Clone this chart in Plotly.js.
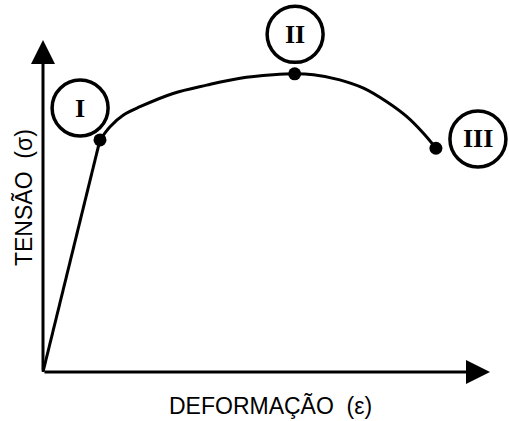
<!DOCTYPE html>
<html>
<head>
<meta charset="utf-8">
<script src="https://cdn.plot.ly/plotly-3.0.1.min.js"></script>
<style>html,body{margin:0;padding:0;background:#fff;}#chart{width:509px;height:421px;}</style>
</head>
<body>
<div id="chart"></div>
<script>
// Elastic region (origin to point I)
const elasticStrain = [0, 12.75];
const elasticStress = [0, 69.9];
// Plastic region (point I through II to III)
const plasticStrain = [12.75, 15.0, 18.0, 21.7, 29.1, 36.6, 44.1, 51.5, 56.3, 60.5, 66.4, 71.7, 76.9, 81.4, 85.1, 87.9];
const plasticStress = [69.9, 73.9, 77.4, 79.9, 83.9, 86.4, 88.5, 89.5, 89.8, 89.5, 88.0, 85.5, 81.4, 76.9, 71.9, 67.4];
// Marked points
const pointLabels = ["I", "II", "III"];
const pointStrain = [12.75, 56.3, 87.9];
const pointStress = [69.9, 89.8, 67.4];
// Label circle centres
const labelStrain = [8.3, 56.4, 97.3];
const labelStress = [79.5, 101.7, 70.2];
const xTitle = "DEFORMAÇÃO\u00a0\u00a0(ε)";
const yTitle = "TENSÃO\u00a0\u00a0(σ)";

const ink = "#000";
const traces = [
  {x: elasticStrain, y: elasticStress, mode: "lines", line: {color: ink, width: 3}, hoverinfo: "skip"},
  {x: plasticStrain, y: plasticStress, mode: "lines", line: {color: ink, width: 3, shape: "spline", smoothing: 1}, hoverinfo: "skip"},
  {x: pointStrain, y: pointStress, mode: "markers", marker: {color: ink, size: 13}, hoverinfo: "skip"}
];

const shapes = labelStrain.map((cx, i) => ({
  type: "circle", xref: "x", yref: "y", xsizemode: "pixel", ysizemode: "pixel",
  xanchor: cx, yanchor: labelStress[i], x0: -28, x1: 28, y0: -28, y1: 28,
  line: {color: ink, width: 3.5}, fillcolor: "rgba(0,0,0,0)"
}));

const annotations = [
  {x: 100, y: 0, ax: 0, ay: 0, axref: "x", ayref: "y", xref: "x", yref: "y", text: "", showarrow: true,
   arrowhead: 2, arrowsize: 1.6, arrowwidth: 3, arrowcolor: ink, standoff: 0, startstandoff: 0},
  {x: 0, y: 100, ax: 0, ay: 0, axref: "x", ayref: "y", xref: "x", yref: "y", text: "", showarrow: true,
   arrowhead: 2, arrowsize: 1.6, arrowwidth: 3, arrowcolor: ink, standoff: 0, startstandoff: 0},
  {x: 51.0, y: -10.2, xref: "x", yref: "y", text: xTitle, showarrow: false,
   font: {family: "Liberation Sans, Arial", size: 23, color: ink}},
  {x: -4.25, y: 52.4, xref: "x", yref: "y", text: yTitle, showarrow: false, textangle: -90,
   font: {family: "Liberation Sans, Arial", size: 23, color: ink}}
].concat(pointLabels.map((t, i) => ({
  x: labelStrain[i], y: labelStress[i], xref: "x", yref: "y", text: t, showarrow: false,
  font: {family: "Liberation Serif, serif", size: 26, color: ink, weight: "bold"}
})));

const layout = {
  width: 509, height: 421,
  margin: {l: 0, r: 0, t: 0, b: 0},
  paper_bgcolor: "#fff", plot_bgcolor: "#fff",
  showlegend: false,
  xaxis: {range: [-9.62, 104.25], visible: false},
  yaxis: {range: [-14.76, 112.05], visible: false},
  shapes: shapes,
  annotations: annotations
};
Plotly.newPlot("chart", traces, layout, {staticPlot: true, displayModeBar: false});
</script>
</body>
</html>
